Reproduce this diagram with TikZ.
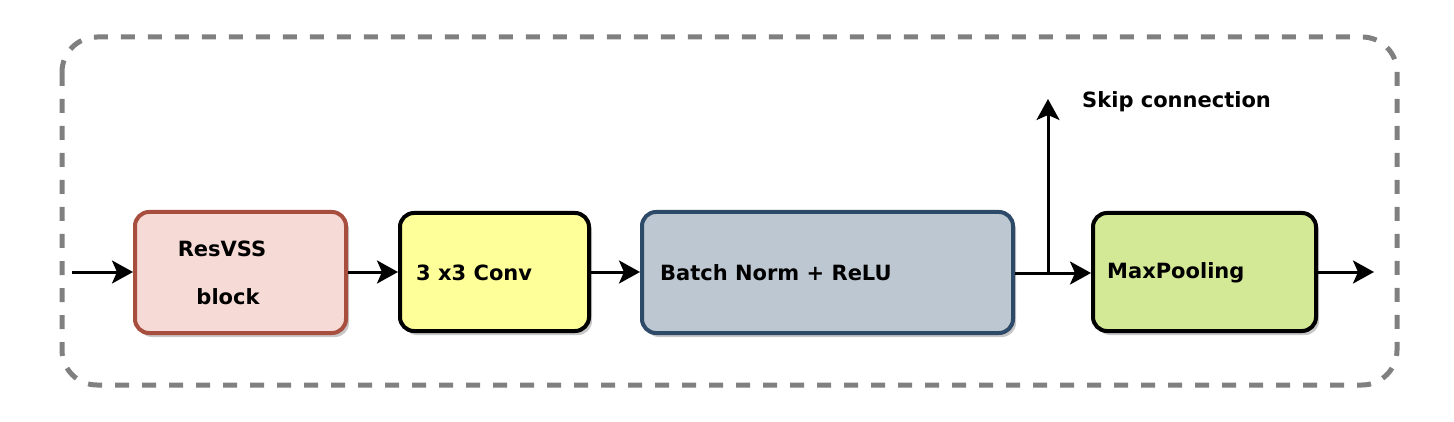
\documentclass[tikz,border=0pt]{standalone}
\usepackage{fontspec}
\setmainfont{DejaVu Sans}
\usetikzlibrary{arrows.meta,shadows}
\definecolor{pinkfill}{HTML}{F5DAD5}
\definecolor{pinkdraw}{HTML}{A84E3E}
\definecolor{yellowfill}{HTML}{FFFF99}
\definecolor{bnfill}{HTML}{BDC7D1}
\definecolor{bndraw}{HTML}{2D4A68}
\definecolor{mpfill}{HTML}{D4E996}
\definecolor{dashgray}{HTML}{808080}
\tikzset{
  blk/.style={rectangle, rounded corners=14pt, line width=4pt, inner sep=0pt,
    drop shadow={shadow xshift=3pt, shadow yshift=-4pt, opacity=0.22, fill=black}},
  lbl/.style={font=\fontsize{21}{25}\selectfont\bfseries, inner sep=0pt, text=black},
  conn/.style={line width=3pt, -{Stealth[length=21pt,width=23pt,inset=5pt]}},
}
\begin{document}
\begin{tikzpicture}[x=1pt,y=-1pt]
\useasboundingbox (0,0) rectangle (1454,422);
% outer dashed frame
\draw[dashgray, line width=5pt, dash pattern=on 14pt off 13pt, rounded corners=35pt]
  (62,37) rectangle (1397,385);
% boxes
\node[blk, draw=pinkdraw, fill=pinkfill, minimum width=211pt, minimum height=121pt] (res) at (240.5,272.5) {};
\node[blk, draw=black, fill=yellowfill, minimum width=189pt, minimum height=118pt] (conv) at (494.5,272) {};
\node[blk, draw=bndraw, fill=bnfill, minimum width=371pt, minimum height=121pt] (bn) at (827.5,272.5) {};
\node[blk, draw=black, fill=mpfill, minimum width=223pt, minimum height=118pt] (mp) at (1204.5,272) {};
% labels
\node[lbl] (resA) at (222,249) {ResVSS};
\node[lbl] (resB) at (228,297) {block};
\node[lbl, anchor=west] (convt) at (416,273) {3 x3 Conv};
\node[lbl, anchor=west] (bnt) at (660,273) {Batch Norm + ReLU};
\node[lbl, anchor=west] (mpt) at (1107,273) {MaxPooling};
\node[lbl, anchor=west] (skipt) at (1082,102) {Skip connection};
% connectors
\coordinate (in) at (72,272);
\coordinate (out) at (1374,272);
\coordinate (skipbase) at (1048,272);
\coordinate (skiptop) at (1048,99);
\draw[conn] (in) -- (res.west |- in);
\draw[conn] (res.east |- 0,272) -- (conv.west |- 0,272);
\draw[conn] (conv.east |- 0,272) -- (bn.west |- 0,272);
\draw[conn] (bn.east |- 0,273) -- (mp.west |- 0,273);
\draw[conn] (mp.east |- 0,272) -- (out);
\draw[conn] (skipbase) -- (skiptop);
\end{tikzpicture}
\end{document}
